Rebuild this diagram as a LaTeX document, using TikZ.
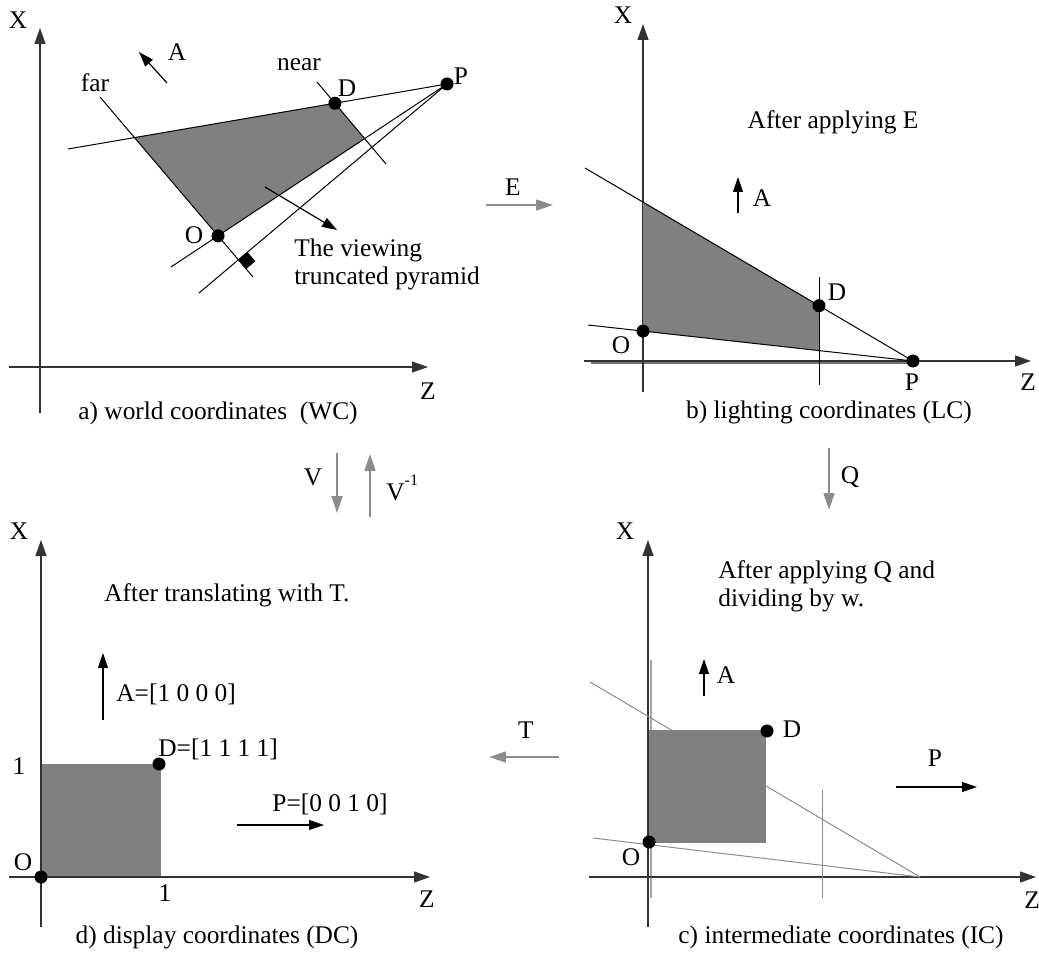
\documentclass[tikz,border=0pt]{standalone}
\usepackage{fontspec}
\setmainfont{Liberation Serif}
\usetikzlibrary{arrows.meta,calc}
\begin{document}
\begin{tikzpicture}[x=0.5pt,y=-0.5pt,
  axis/.style={draw=black!80,line width=0.65pt,-{Triangle[length=8pt,width=5.5pt]}},
  thinln/.style={draw=black,line width=0.5pt},
  vec/.style={draw=black,line width=0.6pt,-{Triangle[length=7.5pt,width=5pt]}},
  tf/.style={draw=black!45,line width=0.7pt,-{Triangle[length=8.5pt,width=5.5pt]}},
  dot/.style={circle,fill=black,inner sep=0pt,minimum size=6.5pt},
  lbl/.style={inner sep=0pt,font=\fontsize{12.7}{14}\selectfont},
  reg/.style={fill=black!50},
  gline/.style={draw=black!45,line width=0.5pt},
  band/.style={draw=black!55,line width=1.1pt}]
\useasboundingbox (0,0) rectangle (1039,957);

% ---------------- panel a: world coordinates
\coordinate (aX0) at (40,413); \coordinate (aXt) at (40,28);
\coordinate (aZ0) at (9,367);  \coordinate (aZt) at (428,367);
\draw[axis] (aX0) -- (aXt);
\draw[axis] (aZ0) -- (aZt);
\node[lbl] (aX) at (18,20) {X};
\node[lbl] (aZ) at (428,391) {Z};
\node[lbl] (acap) at (218,413) {a) world coordinates\ \ (WC)};

\coordinate (fa1) at (100,97);  \coordinate (fa2) at (253,277);
\coordinate (ta1) at (68,149);  \coordinate (aP) at (447,84);
\coordinate (na1) at (317,82);  \coordinate (na2) at (386,164);
\coordinate (ba1) at (171,267); \coordinate (pa2) at (199,293);
\coordinate (aTL) at (intersection of fa1--fa2 and ta1--aP);
\coordinate (aD)  at (intersection of na1--na2 and ta1--aP);
\coordinate (aBR) at (intersection of na1--na2 and ba1--aP);
\coordinate (aO)  at (intersection of fa1--fa2 and ba1--aP);
\coordinate (aI)  at (intersection of fa1--fa2 and aP--pa2);
\fill[reg] (aTL) -- (aD) -- (aBR) -- (aO) -- cycle;
\draw[thinln] (fa1) -- (fa2);
\draw[thinln] (ta1) -- (aP);
\draw[thinln] (na1) -- (na2);
\draw[thinln] (ba1) -- (aP);
\draw[thinln] (aP) -- (pa2);
\coordinate (m1) at ($(aI)!6pt!(fa2)$);
\coordinate (m2) at ($(aI)!6pt!(aP)$);
\fill (aI) -- (m1) -- ($(m1)+(m2)-(aI)$) -- (m2) -- cycle;
\node[dot] (aDd) at (aD) {};
\node[dot] (aOd) at (aO) {};
\node[dot] (aPd) at (aP) {};
\node[lbl] (aDl) at (347,88) {D};
\node[lbl] (aPl) at (461,76) {P};
\node[lbl] (aOl) at (194,235) {O};
\node[lbl] (afar) at (95,83) {far};
\node[lbl] (anear) at (299,65) {near};
\coordinate (aA0) at (167,83); \coordinate (aA1) at (139,52);
\draw[vec] (aA0) -- (aA1);
\node[lbl] (aAl) at (177,52) {A};
\coordinate (av0) at (265,187); \coordinate (av1) at (337,230);
\draw[vec] (av0) -- (av1);
\node[lbl,anchor=west,align=left] (aview) at (294,264) {The viewing\\truncated pyramid};

% ---------------- transforms
\coordinate (E0) at (486,205); \coordinate (E1) at (553,205);
\draw[tf] (E0) -- (E1);
\node[lbl] (El) at (513,187) {E};
\coordinate (V0) at (337,453); \coordinate (V1) at (337,513);
\draw[tf] (V0) -- (V1);
\node[lbl] (Vl) at (313,477) {V};
\coordinate (W0) at (370,517); \coordinate (W1) at (370,454);
\draw[tf] (W0) -- (W1);
\node[lbl,anchor=base west] (Wl) at (386,500) {V\raisebox{1.25ex}{\fontsize{8}{8}\selectfont -1}};
\coordinate (Q0) at (829,448); \coordinate (Q1) at (829,510);
\draw[tf] (Q0) -- (Q1);
\node[lbl] (Ql) at (850,477) {Q};
\coordinate (T0) at (559,757); \coordinate (T1) at (489,757);
\draw[tf] (T0) -- (T1);
\node[lbl] (Tl) at (526,730) {T};

% ---------------- panel b: lighting coordinates
\coordinate (bX0) at (643,392); \coordinate (bXt) at (643,24);
\coordinate (bZ0) at (584,361); \coordinate (bZt) at (1031,361);
\coordinate (bP) at (913,361);
\coordinate (bb0) at (591,362.5); \coordinate (bb1) at (913,362.5);
\draw[band] (bb0) -- (bb1);
\draw[axis] (bX0) -- (bXt);
\draw[axis] (bZ0) -- (bZt);
\node[lbl] (bX) at (623,15) {X};
\node[lbl] (bZ) at (1028,382) {Z};
\node[lbl] (bcap) at (829,412) {b) lighting coordinates (LC)};
\coordinate (bu1) at (585,168); \coordinate (bl1) at (588,325);
\coordinate (bt0) at (819,277); \coordinate (bt1) at (819,385);
\coordinate (bTL) at (intersection of bu1--bP and bX0--bXt);
\coordinate (bD)  at (intersection of bu1--bP and bt0--bt1);
\coordinate (bBR) at (intersection of bl1--bP and bt0--bt1);
\coordinate (bO)  at (intersection of bl1--bP and bX0--bXt);
\fill[reg] (bTL) -- (bD) -- (bBR) -- (bO) -- cycle;
\draw[thinln] (bu1) -- (bP);
\draw[thinln] (bl1) -- (bP);
\draw[thinln] (bt0) -- (bt1);
\node[dot] (bOd) at (bO) {};
\node[dot] (bDd) at (bD) {};
\node[dot] (bPd) at (bP) {};
\node[lbl] (bOl) at (621,345) {O};
\node[lbl] (bDl) at (837,292) {D};
\node[lbl] (bPl) at (912,382) {P};
\coordinate (bA0) at (738,213); \coordinate (bA1) at (738,177);
\draw[vec] (bA0) -- (bA1);
\node[lbl] (bAl) at (762,198) {A};
\node[lbl] (bE) at (833,122) {After applying E};

% ---------------- panel c: intermediate coordinates
\coordinate (cX0) at (648,927); \coordinate (cXt) at (648,540);
\coordinate (cZ0) at (589,877); \coordinate (cZt) at (1036,877);
\coordinate (cg0) at (650.5,660); \coordinate (cg1) at (650.5,898);
\coordinate (ch0) at (598,877); \coordinate (cP) at (920,877);
\draw[draw=black!35,line width=1pt] (cg0) -- (cg1);
\draw[draw=black!35,line width=1pt] (ch0) -- (cP);
\draw[axis] (cX0) -- (cXt);
\draw[axis] (cZ0) -- (cZt);
\node[lbl] (cX) at (625,531) {X};
\node[lbl] (cZ) at (1032,900) {Z};
\node[lbl] (ccap) at (841,937) {c) intermediate coordinates (IC)};
\coordinate (cu1) at (590,682); \coordinate (cl1) at (593,838);
\coordinate (ct0) at (822,790); \coordinate (ct1) at (822,898);
\draw[gline] (cu1) -- (cP);
\draw[gline] (cl1) -- (cP);
\draw[gline] (ct0) -- (ct1);
\coordinate (cO) at (649,842); \coordinate (cD) at (767,731);
\fill[reg] (649,730) rectangle (766,843);
\node[dot] (cOd) at (cO) {};
\node[dot] (cDd) at (cD) {};
\node[lbl] (cOl) at (631,857) {O};
\node[lbl] (cDl) at (792,729) {D};
\coordinate (cA0) at (704,696); \coordinate (cA1) at (704,659);
\draw[vec] (cA0) -- (cA1);
\node[lbl] (cAl) at (726,675) {A};
\coordinate (cv0) at (896,787); \coordinate (cv1) at (977,787);
\draw[vec] (cv0) -- (cv1);
\node[lbl] (cPl) at (935,758) {P};
\node[lbl,anchor=west,align=left] (cQ) at (718,586) {After applying Q and\\dividing by w.};

% ---------------- panel d: display coordinates
\coordinate (dX0) at (41,927); \coordinate (dXt) at (41,540);
\coordinate (dZ0) at (9,877);  \coordinate (dZt) at (430,877);
\fill[reg] (42,764) rectangle (161,877);
\draw[axis] (dX0) -- (dXt);
\draw[axis] (dZ0) -- (dZt);
\node[lbl] (dX) at (19,531) {X};
\node[lbl] (dZ) at (427,899) {Z};
\node[lbl] (dcap) at (217,937) {d) display coordinates (DC)};
\coordinate (dO) at (41,877); \coordinate (dD) at (159,764);
\node[dot] (dOd) at (dO) {};
\node[dot] (dDd) at (dD) {};
\node[lbl] (dOl) at (23,862) {O};
\node[lbl] (d1x) at (19,766) {1};
\node[lbl] (d1z) at (165,893) {1};
\node[lbl,anchor=west] (dDl) at (158,749) {D=[1 1 1 1]};
\coordinate (dA0) at (103,720); \coordinate (dA1) at (103,653);
\draw[vec] (dA0) -- (dA1);
\node[lbl,anchor=west] (dAl) at (116,694) {A=[1 0 0 0]};
\coordinate (dv0) at (237,825); \coordinate (dv1) at (324,825);
\draw[vec] (dv0) -- (dv1);
\node[lbl,anchor=west] (dPl) at (272,804) {P=[0 0 1 0]};
\node[lbl,anchor=west] (dT) at (104,595) {After translating with T.};
\end{tikzpicture}
\end{document}
